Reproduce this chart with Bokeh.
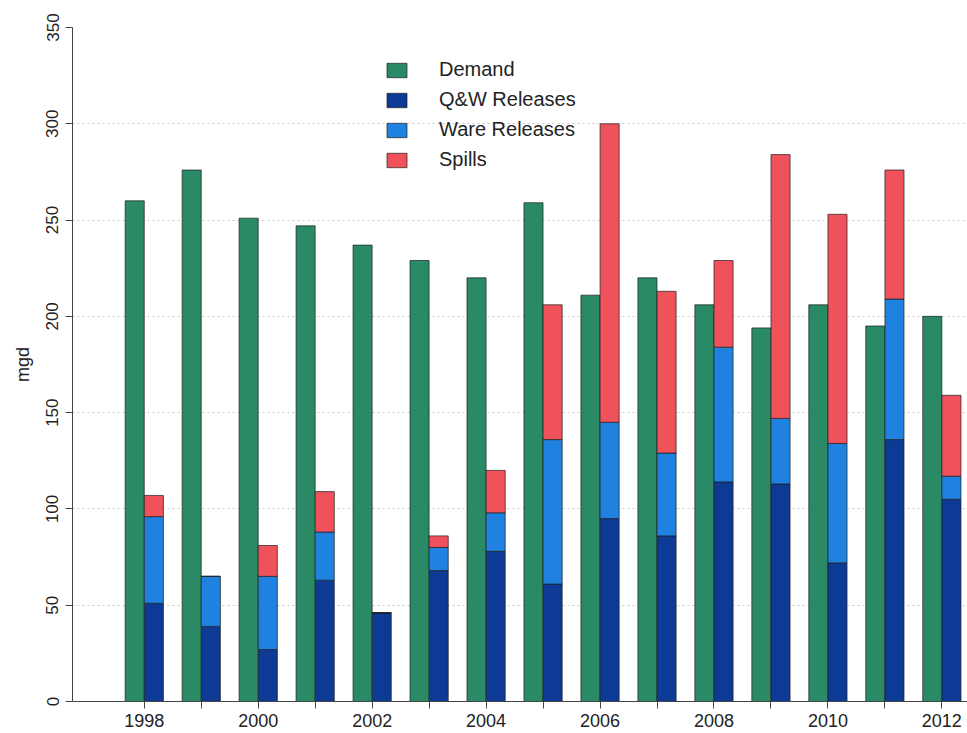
from bokeh.plotting import figure
from bokeh.models import ColumnDataSource, FixedTicker, Legend, LegendItem, Range1d
from bokeh.transform import dodge
from bokeh.embed import file_html
from bokeh.resources import INLINE

# Annual values in mgd
years = list(range(1998, 2013))
demand = [260, 276, 251, 247, 237, 229, 220, 259, 211, 220, 206, 194, 206, 195, 200]
qw_releases = [51, 39, 27, 63, 46, 68, 78, 61, 95, 86, 114, 113, 72, 136, 105]
ware_releases = [45, 26, 38, 25, 0, 12, 20, 75, 50, 43, 70, 34, 62, 73, 12]
spills = [11, 0, 16, 21, 0, 6, 22, 70, 155, 84, 45, 137, 119, 67, 42]
y_ticks = [0, 50, 100, 150, 200, 250, 300, 350]
labelled_years = [1998, 2000, 2002, 2004, 2006, 2008, 2010, 2012]

GREEN = "#2b8a66"
NAVY = "#0c3a94"
BLUE = "#1f82e0"
RED = "#f0525c"
EDGE = "#1e1e1e"
FONT = "Liberation Sans"
TEXT = "#222222"

source = ColumnDataSource(dict(
    year=years, demand=demand, qw=qw_releases, ware=ware_releases, spills=spills,
))

p = figure(
    width=967, height=733,
    x_range=Range1d(1996.74, 2012.45), y_range=Range1d(0, 350),
    output_backend="svg", toolbar_location=None,
    min_border_left=72, min_border_right=0, min_border_top=27, min_border_bottom=32,
    background_fill_color="white", border_fill_color="white",
)
p.outline_line_color = None

bar_w = 0.335
r_demand = p.vbar(x=dodge("year", -0.168, range=p.x_range), top="demand", width=bar_w,
                  source=source, fill_color=GREEN, line_color=EDGE, line_width=0.7)
stack = p.vbar_stack(["qw", "ware", "spills"], x=dodge("year", 0.168, range=p.x_range),
                     width=bar_w, source=source, fill_color=[NAVY, BLUE, RED],
                     line_color=EDGE, line_width=0.7)

legend = Legend(
    items=[
        LegendItem(label="Demand", renderers=[r_demand]),
        LegendItem(label="Q&W Releases", renderers=[stack[0]]),
        LegendItem(label="Ware Releases", renderers=[stack[1]]),
        LegendItem(label="Spills", renderers=[stack[2]]),
    ],
    location=(312, 530), orientation="vertical",
    glyph_width=25, glyph_height=18, label_height=20, label_standoff=30,
    spacing=7, padding=0, margin=0,
    border_line_alpha=0, background_fill_alpha=0,
    label_text_font=FONT, label_text_font_size="20px", label_text_color=TEXT,
)
p.add_layout(legend)

# grid: faint dotted horizontal lines only
p.xgrid.grid_line_color = None
p.ygrid.ticker = FixedTicker(ticks=y_ticks[1:-1])
p.ygrid.grid_line_color = "#c9c9c9"
p.ygrid.grid_line_dash = "2 3"
p.ygrid.grid_line_width = 1

# x axis
p.xaxis.ticker = FixedTicker(ticks=years)
p.xaxis.major_label_overrides = {y: ("" if y not in labelled_years else str(y)) for y in years}
p.xaxis.minor_tick_line_color = None
p.xaxis.major_tick_out = 7
p.xaxis.major_tick_in = 0
p.xaxis.major_label_standoff = 5
p.xaxis.axis_line_color = "#444444"
p.xaxis.major_tick_line_color = "#444444"
p.xaxis.major_label_text_font = FONT
p.xaxis.major_label_text_font_size = "18px"
p.xaxis.major_label_text_color = TEXT

# y axis
p.yaxis.ticker = FixedTicker(ticks=y_ticks)
p.yaxis.minor_tick_line_color = None
p.yaxis.major_tick_out = 7
p.yaxis.major_tick_in = 0
p.yaxis.major_label_orientation = "vertical"
p.yaxis.major_label_standoff = 7
p.yaxis.axis_line_color = "#444444"
p.yaxis.major_tick_line_color = "#444444"
p.yaxis.major_label_text_font = FONT
p.yaxis.major_label_text_font_size = "17px"
p.yaxis.major_label_text_color = TEXT
p.yaxis.axis_label = "mgd"
p.yaxis.axis_label_text_font = FONT
p.yaxis.axis_label_text_font_size = "18px"
p.yaxis.axis_label_text_font_style = "normal"
p.yaxis.axis_label_text_color = TEXT
p.yaxis.axis_label_standoff = 11

open("out.html", "w").write(file_html(p, INLINE))
